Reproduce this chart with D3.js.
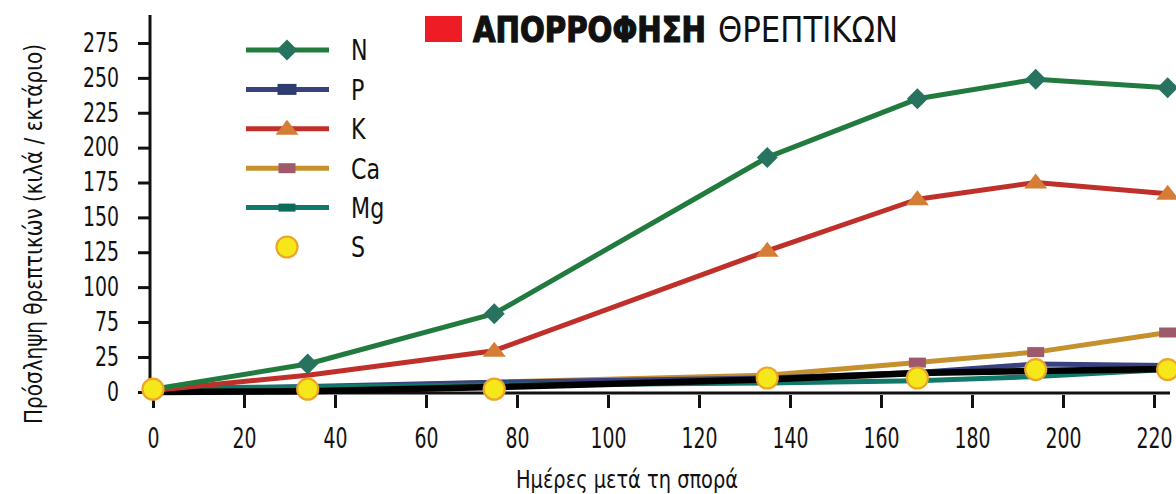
<!DOCTYPE html>
<html>
<head>
<meta charset="utf-8">
<script src="https://cdn.jsdelivr.net/npm/d3@7"></script>
<style>
  body { margin: 0; background: #fff; }
  text { font-family: "Liberation Sans Narrow", "DejaVu Sans Condensed", "Roboto Condensed", sans-serif; fill: #111; }
</style>
</head>
<body>
<script>
// days after sowing (x values shared by every series)
var days = [0, 34, 75, 135, 168, 194, 223];

// uptake, kg / ha
var valuesN  = [2, 20, 81, 193, 235, 249, 243];
var valuesP  = [1, 4, 7, 10, 14, 20, 19];
var valuesK  = [1, 12, 34, 126, 163, 175, 167];
var valuesCa = [1, 3, 7, 12, 21, 32, 60];
var valuesMg = [3, 3.5, 5, 6.5, 8, 11, 16];
var valuesS  = [2, 2, 2, 10, 10, 16, 16];
// the black line that runs along the bottom (no legend entry)
var valuesBlack = [0, 0.5, 3.5, 9, 13.5, 15, 16.5];

var xTicks = [0, 20, 40, 60, 80, 100, 120, 140, 160, 180, 200, 220];
// the original axis skips 50, so the scale is piecewise
var yTicks = [0, 25, 75, 100, 125, 150, 175, 200, 225, 250, 275];

var legendNames = ["N", "P", "K", "Ca", "Mg", "S"];

var svg = d3.select("body").append("svg")
  .attr("width", 1176)
  .attr("height", 494);

var x = d3.scaleLinear().domain([0, 220]).range([153, 1154]);
var y = d3.scaleLinear().domain([0, 25, 75, 275]).range([392, 357, 322, 43]);

// marker shapes
function diamond(s) {
  return "M0," + (-s) + "L" + s + ",0L0," + s + "L" + (-s) + ",0Z";
}
function triangle(w, h) {
  return "M0," + (-h * 0.6) + "L" + (w / 2) + "," + (h * 0.4) + "L" + (-w / 2) + "," + (h * 0.4) + "Z";
}
function rect(w, h) {
  return "M" + (-w / 2) + "," + (-h / 2) + "h" + w + "v" + h + "h" + (-w) + "Z";
}

// firstMarker: markers before this index are not drawn on the chart
var series = [
  { name: "Ca", values: valuesCa, line: "#c4912e", fill: "#9e5a6c", marker: rect(17, 10), firstMarker: 3 },
  { name: "P", values: valuesP, line: "#3a4180", fill: "#2f3c70", marker: rect(19, 11), firstMarker: 99 },
  { name: "Mg", values: valuesMg, line: "#11796a", fill: "#0d6b5e", marker: rect(17, 8), firstMarker: 99 },
  { name: "black", values: valuesBlack, line: "#000", width: 6.5 },
  { name: "K", values: valuesK, line: "#c0302a", fill: "#d57d36", marker: triangle(23, 15), firstMarker: 2 },
  { name: "N", values: valuesN, line: "#217a3e", fill: "#287360", marker: diamond(10.5), firstMarker: 1 }
];

var line = d3.line()
  .x(function(d, i) { return x(days[i]); })
  .y(function(d) { return y(d); });

// axes
var yAxis = svg.append("g")
  .attr("transform", "translate(150,0)")
  .call(d3.axisLeft(y).tickValues(yTicks).tickSize(12).tickPadding(19).tickSizeOuter(0));
yAxis.select(".domain").remove();
yAxis.selectAll("line").attr("stroke", "#111").attr("stroke-width", 3);
yAxis.selectAll("text")
  .style("font-size", "26px")
  .attr("textLength", function(d) { return String(d).length * 12; })
  .attr("lengthAdjust", "spacingAndGlyphs");

var xAxis = svg.append("g")
  .attr("transform", "translate(0,395)")
  .call(d3.axisBottom(x).tickValues(xTicks).tickSize(13).tickPadding(20).tickSizeOuter(0));
xAxis.select(".domain").remove();
xAxis.selectAll("line").attr("stroke", "#111").attr("stroke-width", 3);
xAxis.selectAll("text")
  .style("font-size", "28px")
  .attr("textLength", function(d) { return String(d).length * 12; })
  .attr("lengthAdjust", "spacingAndGlyphs");

svg.append("line")
  .attr("x1", 150).attr("x2", 150).attr("y1", 15).attr("y2", 394.5)
  .attr("stroke", "#111").attr("stroke-width", 3);
svg.append("line")
  .attr("x1", 148.5).attr("x2", 1170).attr("y1", 393).attr("y2", 393)
  .attr("stroke", "#111").attr("stroke-width", 3);

// series lines
svg.selectAll("path.series")
  .data(series)
  .enter()
  .append("path")
  .attr("class", "series")
  .attr("d", function(s) { return line(s.values); })
  .attr("fill", "none")
  .attr("stroke", function(s) { return s.line; })
  .attr("stroke-width", function(s) { return s.width || 5; })
  .attr("stroke-linejoin", "round");

// markers
series.forEach(function(s) {
  if (!s.marker) return;
  var pts = s.values.map(function(v, i) { return { day: days[i], v: v, i: i }; })
    .filter(function(p) { return p.i >= s.firstMarker; });
  svg.selectAll(null)
    .data(pts)
    .enter()
    .append("path")
    .attr("d", s.marker)
    .attr("transform", function(p) { return "translate(" + x(p.day) + "," + y(p.v) + ")"; })
    .attr("fill", s.fill);
});

svg.selectAll("circle.s")
  .data(valuesS)
  .enter()
  .append("circle")
  .attr("class", "s")
  .attr("cx", function(d, i) { return x(days[i]); })
  .attr("cy", function(d) { return y(d); })
  .attr("r", 10.5)
  .attr("fill", "#f6e71a")
  .attr("stroke", "#eba527")
  .attr("stroke-width", 2.2);

// legend
var legendSeries = {
  N: series[5], P: series[1], K: series[4], Ca: series[0], Mg: series[2]
};
var legend = svg.append("g");
legendNames.forEach(function(name, i) {
  var ly = 50 + i * 39.4;
  var s = legendSeries[name];
  if (s) {
    legend.append("line")
      .attr("x1", 246).attr("x2", 329).attr("y1", ly).attr("y2", ly)
      .attr("stroke", s.line).attr("stroke-width", 5);
    legend.append("path")
      .attr("d", s.marker)
      .attr("transform", "translate(287," + ly + ")")
      .attr("fill", s.fill);
  } else {
    legend.append("circle")
      .attr("cx", 287).attr("cy", ly).attr("r", 10.5)
      .attr("fill", "#f6e71a").attr("stroke", "#eba527").attr("stroke-width", 2.2);
  }
  legend.append("text")
    .attr("transform", "translate(351," + ly + ") scale(0.85,1)")
    .attr("dy", "0.36em")
    .style("font-size", "29px")
    .text(name);
});

// axis titles
svg.append("text")
  .attr("transform", "translate(42,234) rotate(-90)")
  .attr("text-anchor", "middle")
  .attr("textLength", 380).attr("lengthAdjust", "spacingAndGlyphs")
  .style("font-size", "25px")
  .text("Πρόσληψη θρεπτικών (κιλά / εκτάριο)");

svg.append("text")
  .attr("x", 627).attr("y", 488)
  .attr("text-anchor", "middle")
  .attr("textLength", 222).attr("lengthAdjust", "spacingAndGlyphs")
  .style("font-size", "25px")
  .text("Ημέρες μετά τη σπορά");

// title
svg.append("rect")
  .attr("x", 425).attr("y", 16).attr("width", 37).attr("height", 26)
  .attr("fill", "#ee1c25");
svg.append("text")
  .attr("x", 473).attr("y", 42)
  .attr("textLength", 233).attr("lengthAdjust", "spacingAndGlyphs")
  .style("font-size", "35px").style("font-weight", "bold")
  .style("stroke", "#111").style("stroke-width", 1.2)
  .text("ΑΠΟΡΡΟΦΗΣΗ");
svg.append("text")
  .attr("x", 718).attr("y", 42)
  .attr("textLength", 180).attr("lengthAdjust", "spacingAndGlyphs")
  .style("font-size", "35px")
  .text("ΘΡΕΠΤΙΚΩΝ");
</script>
</body>
</html>
